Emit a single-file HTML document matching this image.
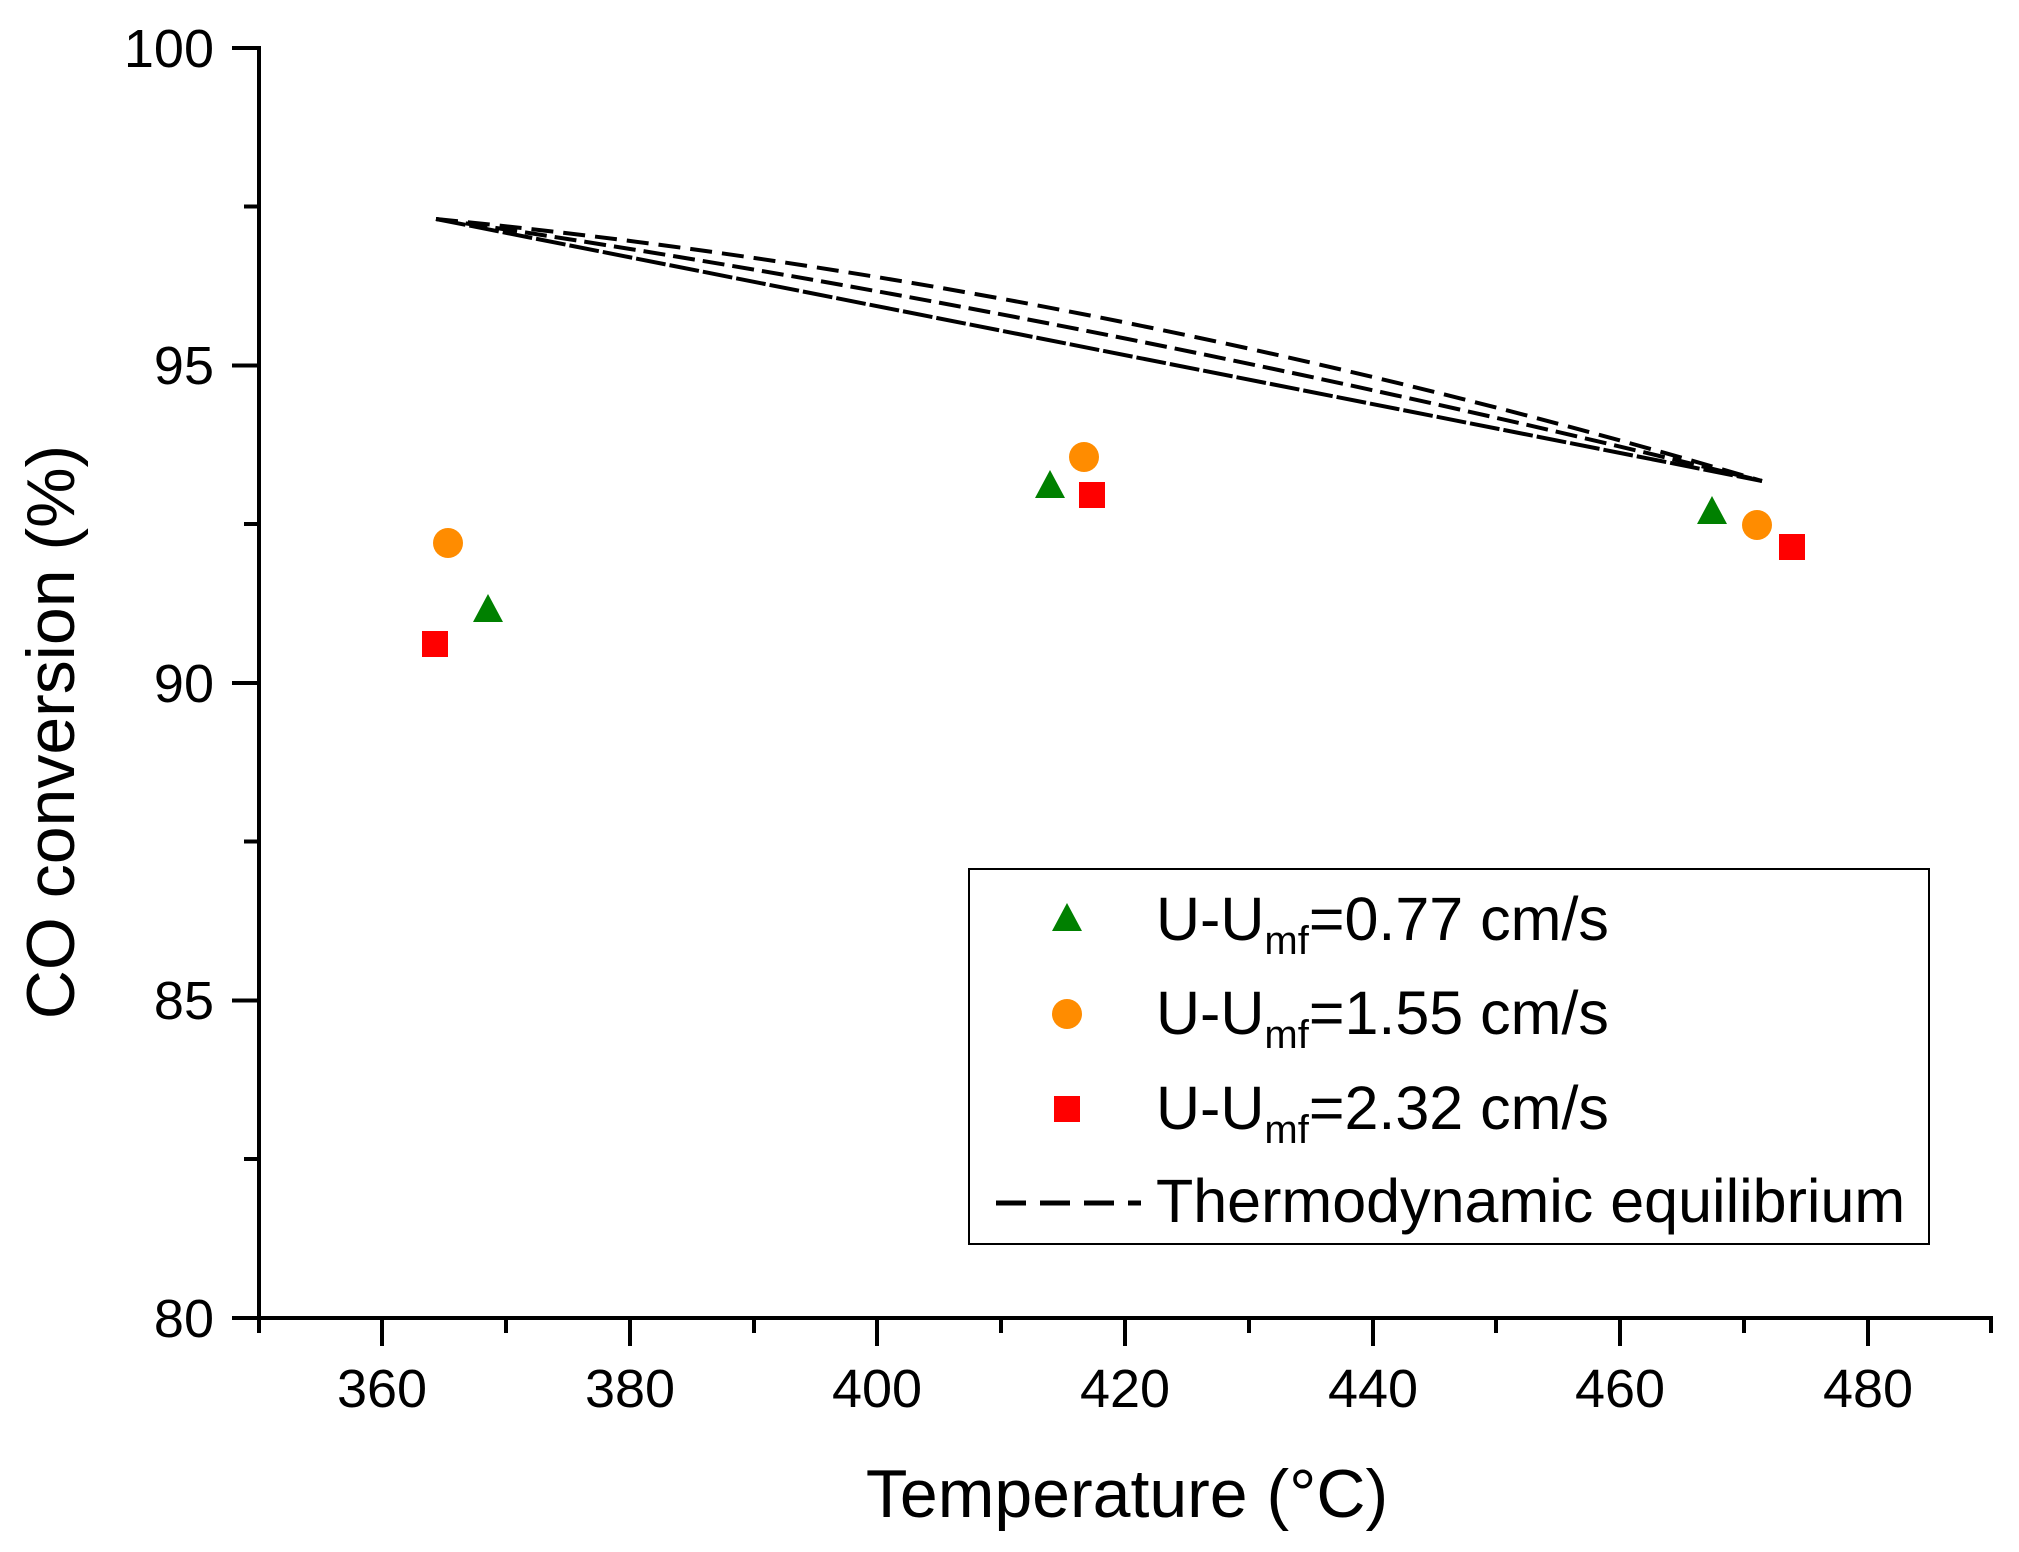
<!DOCTYPE html>
<html><head><meta charset="utf-8"><style>
html,body{margin:0;padding:0;background:#fff;}
svg{display:block;}
text{font-family:"Liberation Sans",Arial,sans-serif;fill:#000;}
</style></head><body>
<svg width="2019" height="1552" viewBox="0 0 2019 1552" xmlns="http://www.w3.org/2000/svg">
<rect width="2019" height="1552" fill="#fff"/>
<g stroke="#000" stroke-width="4" fill="none">
<line x1="259" y1="46" x2="259" y2="1320"/>
<line x1="257" y1="1318" x2="1993" y2="1318"/>
<line x1="259" y1="1318" x2="259" y2="1333"/>
<line x1="382" y1="1318" x2="382" y2="1346"/>
<line x1="506" y1="1318" x2="506" y2="1333"/>
<line x1="630" y1="1318" x2="630" y2="1346"/>
<line x1="754" y1="1318" x2="754" y2="1333"/>
<line x1="877" y1="1318" x2="877" y2="1346"/>
<line x1="1001" y1="1318" x2="1001" y2="1333"/>
<line x1="1125" y1="1318" x2="1125" y2="1346"/>
<line x1="1249" y1="1318" x2="1249" y2="1333"/>
<line x1="1373" y1="1318" x2="1373" y2="1346"/>
<line x1="1496" y1="1318" x2="1496" y2="1333"/>
<line x1="1620" y1="1318" x2="1620" y2="1346"/>
<line x1="1744" y1="1318" x2="1744" y2="1333"/>
<line x1="1868" y1="1318" x2="1868" y2="1346"/>
<line x1="1991" y1="1318" x2="1991" y2="1333"/>
<line x1="259" y1="1318" x2="232" y2="1318"/>
<line x1="259" y1="1159" x2="244" y2="1159"/>
<line x1="259" y1="1000.5" x2="232" y2="1000.5"/>
<line x1="259" y1="841.5" x2="244" y2="841.5"/>
<line x1="259" y1="683" x2="232" y2="683"/>
<line x1="259" y1="524" x2="244" y2="524"/>
<line x1="259" y1="365.5" x2="232" y2="365.5"/>
<line x1="259" y1="206.5" x2="244" y2="206.5"/>
<line x1="259" y1="48" x2="232" y2="48"/>
</g>
<g font-size="54" text-anchor="middle">
<text x="382" y="1407">360</text>
<text x="630" y="1407">380</text>
<text x="877" y="1407">400</text>
<text x="1125" y="1407">420</text>
<text x="1373" y="1407">440</text>
<text x="1620" y="1407">460</text>
<text x="1868" y="1407">480</text>
</g>
<g font-size="54" text-anchor="end">
<text x="214" y="1337">80</text>
<text x="214" y="1019">85</text>
<text x="214" y="702">90</text>
<text x="214" y="384">95</text>
<text x="214" y="67">100</text>
</g>
<text x="1127" y="1517" font-size="68" text-anchor="middle">Temperature (°C)</text>
<text transform="translate(74,732) rotate(-90)" font-size="68" text-anchor="middle">CO conversion (%)</text>
<g stroke="#000" stroke-width="4" fill="none">
<path d="M436,219 L1762,481" stroke-dasharray="30,4"/>
<path d="M436,219 Q1096,316 1762,481" stroke-dasharray="22,8"/>
<path d="M436,219 Q1096,284 1762,481" stroke-dasharray="22,10"/>
</g>
<g fill="#008000">
<polygon points="488,594 503,622 473,622"/>
<polygon points="1050,470 1065,498 1035,498"/>
<polygon points="1712,496 1727,524 1697,524"/>
</g>
<g fill="#ff8c00">
<circle cx="448" cy="543" r="15"/>
<circle cx="1084" cy="457" r="15"/>
<circle cx="1757" cy="525" r="15"/>
</g>
<g fill="#ff0000">
<rect x="422" y="631" width="26" height="26"/>
<rect x="1079" y="482" width="26" height="26"/>
<rect x="1779" y="534" width="26" height="26"/>
</g>
<rect x="969" y="869" width="960" height="375" fill="#fff" stroke="#000" stroke-width="2"/>
<polygon points="1067,903 1082,931 1052,931" fill="#008000"/>
<circle cx="1067" cy="1014" r="15" fill="#ff8c00"/>
<rect x="1054" y="1096" width="26" height="26" fill="#ff0000"/>
<line x1="996" y1="1203" x2="1141" y2="1203" stroke="#000" stroke-width="5" stroke-dasharray="30,14"/>
<g font-size="61">
<text x="1156" y="940">U-U<tspan font-size="40" dy="14">mf</tspan><tspan dy="-14">=0.77 cm/s</tspan></text>
<text x="1156" y="1034">U-U<tspan font-size="40" dy="14">mf</tspan><tspan dy="-14">=1.55 cm/s</tspan></text>
<text x="1156" y="1129">U-U<tspan font-size="40" dy="14">mf</tspan><tspan dy="-14">=2.32 cm/s</tspan></text>
<text x="1156" y="1222">Thermodynamic equilibrium</text>
</g>
</svg>
</body></html>
